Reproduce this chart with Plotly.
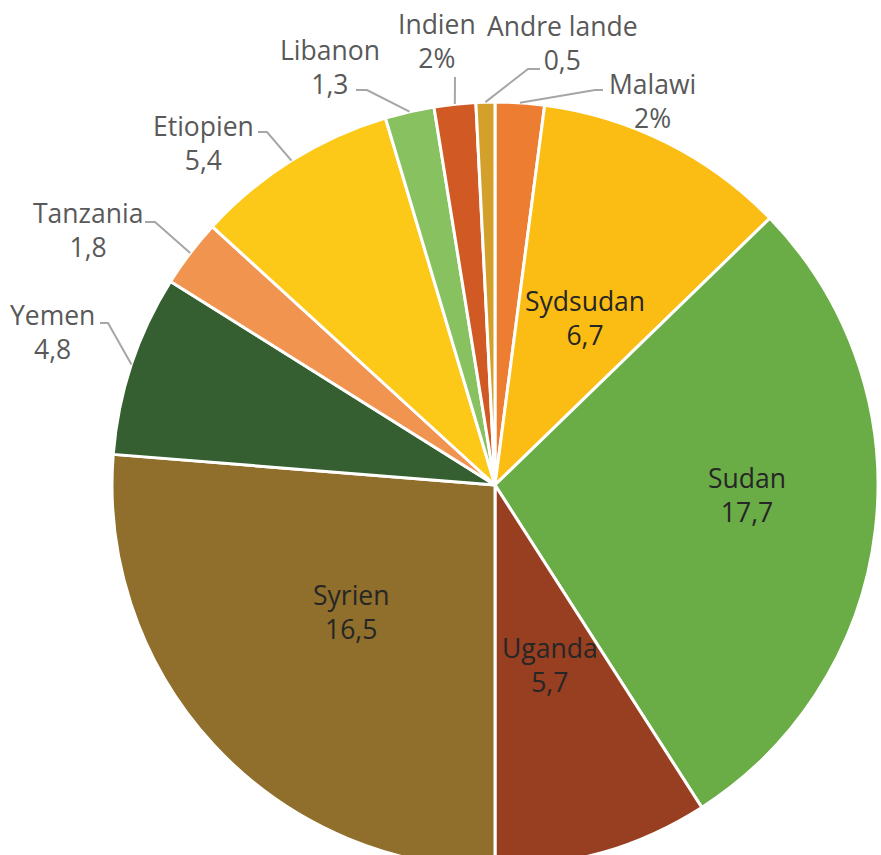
import math
import plotly.graph_objects as go

# ---------------- data ----------------
countries = ["Malawi", "Sydsudan", "Sudan", "Uganda", "Syrien", "Yemen",
             "Tanzania", "Etiopien", "Libanon", "Indien", "Andre lande"]
values = [1.3, 6.7, 17.7, 5.7, 16.5, 4.8, 1.8, 5.4, 1.3, 1.1, 0.5]
value_labels = ["2%", "6,7", "17,7", "5,7", "16,5", "4,8", "1,8", "5,4", "1,3", "2%", "0,5"]

# ---------------- style ----------------
colors = ["#ED7D31", "#FBBD13", "#6AAC45", "#983E21", "#8F6F2B", "#355F30",
          "#F19450", "#FDC918", "#88C160", "#D15A24", "#D3A02C"]

W, H = 900, 880          # figure size in px (page is clipped to the window)
CX, CY, R = 495, 485, 383  # pie centre / radius in px
FONT = "Open Sans"
FSIZE = 26.5

# text block centres (px) of labels drawn inside slices
inside_pos = {
    "Sydsudan": (585, 318),
    "Sudan": (747, 495),
    "Uganda": (550, 665),
    "Syrien": (351, 612),
}
# outside labels: text centre, leader elbow, leader end (px)
outside_pos = {
    "Malawi": ((652, 101), (595, 90), (603, 90)),
    "Andre lande": ((562, 43), (528, 69), (540, 69)),
    "Indien": ((437, 41), (455, 77), (455, 77)),
    "Libanon": ((330, 67), (367, 90), (356, 90)),
    "Etiopien": ((203, 143), (267, 132), (258, 132)),
    "Tanzania": ((88, 230), (155, 222), (145, 222)),
    "Yemen": ((52, 332), (108, 323), (100, 323)),
}


def px(x):
    return x / W


def py(y):
    return 1 - y / H


fig = go.Figure(go.Pie(
    labels=countries,
    values=values,
    sort=False,
    direction="clockwise",
    rotation=0,
    textinfo="none",
    hoverinfo="skip",
    marker=dict(colors=colors, line=dict(color="white", width=3)),
    domain=dict(x=[px(CX - R), px(CX + R)], y=[py(CY + R), py(CY - R)]),
))

# mid angle of each slice (clockwise from 12 o'clock), derived from the data
total = sum(values)
mids = {}
acc = 0.0
for c, v in zip(countries, values):
    mids[c] = (acc + v / 2) / total * 2 * math.pi
    acc += v

annotations = []
shapes = []
for c, lab in zip(countries, value_labels):
    if c in inside_pos:
        x, y = inside_pos[c]
        annotations.append(dict(
            x=px(x), y=py(y), xref="paper", yref="paper",
            text=f"{c}<br>{lab}", showarrow=False,
            xanchor="center", yanchor="middle", align="center",
            font=dict(family=FONT, size=FSIZE, color="#262626"),
        ))
    else:
        (tx, ty), (ex, ey), (fx, fy) = outside_pos[c]
        a = mids[c]
        ax = CX + R * math.sin(a)
        ay = CY - R * math.cos(a)
        annotations.append(dict(
            x=px(tx), y=py(ty), xref="paper", yref="paper",
            text=f"{c}<br>{lab}", showarrow=False,
            xanchor="center", yanchor="middle", align="center",
            font=dict(family=FONT, size=FSIZE, color="#595959"),
        ))
        shapes.append(dict(
            type="path", xref="paper", yref="paper",
            path=f"M {px(ax)},{py(ay)} L {px(ex)},{py(ey)} L {px(fx)},{py(fy)}",
            line=dict(color="#A6A6A6", width=2),
        ))

fig.update_layout(
    width=W, height=H,
    margin=dict(l=0, r=0, t=0, b=0),
    paper_bgcolor="white",
    plot_bgcolor="white",
    showlegend=False,
    annotations=annotations,
    shapes=shapes,
    font=dict(family=FONT),
)

fig.write_html(
    "out.html",
    config={"displayModeBar": False, "staticPlot": True},
    post_script=("document.body.style.margin='0';"
                 "document.body.style.overflow='hidden';"
                 "document.documentElement.style.overflow='hidden';"),
)
